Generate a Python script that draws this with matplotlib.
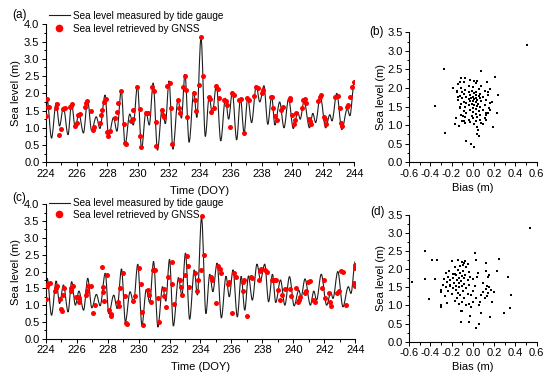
import matplotlib
matplotlib.use("Agg")
import matplotlib.pyplot as plt
from matplotlib.ticker import MultipleLocator
from matplotlib.lines import Line2D
from matplotlib.path import Path
from matplotlib.patches import PathPatch

plt.rcParams['font.family'] = ['Liberation Sans', 'DejaVu Sans']
plt.rcParams['axes.unicode_minus'] = False

# tide gauge record, read as high / low water turning points (DOY, m)
tide_doy = [224.00, 224.10, 224.38, 224.68, 224.90, 225.15, 225.45, 225.68, 225.92, 226.15,
            226.45, 226.72, 226.98, 227.28, 227.52, 227.85, 228.08, 228.40, 228.62, 228.90,
            229.15, 229.45, 229.68, 229.95, 230.22, 230.50, 230.72, 230.97, 231.25, 231.55,
            231.76, 232.00, 232.25, 232.58, 232.80, 233.03, 233.30, 233.60, 233.80, 234.07,
            234.35, 234.60, 234.80, 235.07, 235.35, 235.65, 235.86, 236.10, 236.38, 236.63,
            236.86, 237.10, 237.35, 237.65, 237.88, 238.15, 238.40, 238.65, 238.86, 239.17,
            239.45, 239.75, 240.05, 240.35, 240.50, 240.75, 241.10, 241.32, 241.50, 241.80,
            242.15, 242.42, 242.56, 242.87, 243.20, 243.55, 243.72, 244.00]
tide_level = [1.45, 1.80, 0.70, 1.72, 1.05, 1.60, 0.80, 1.70, 1.00, 1.42,
              0.85, 1.80, 0.92, 1.32, 0.98, 1.95, 0.75, 1.30, 0.90, 2.08,
              0.50, 1.40, 1.08, 2.22, 0.40, 1.47, 1.08, 2.30, 0.35, 1.55,
              1.12, 2.36, 0.38, 1.82, 1.28, 2.55, 0.58, 2.05, 1.30, 3.62,
              0.75, 1.92, 1.40, 2.25, 0.62, 1.86, 1.25, 2.05, 0.65, 1.86,
              0.85, 1.87, 1.15, 2.22, 1.75, 2.22, 1.10, 1.92, 1.08, 1.75,
              1.00, 1.85, 0.98, 1.45, 1.25, 1.78, 1.00, 1.42, 1.15, 1.92,
              1.00, 1.38, 1.20, 2.00, 0.95, 1.55, 1.35, 2.30]

# GNSS retrievals, panel (a)
a_doy = [224.00, 224.06, 224.17, 224.24, 224.65, 224.73, 224.88, 224.99, 225.14, 225.23,
         225.57, 225.66, 225.72, 225.92, 226.03, 226.11, 226.22, 226.54, 226.61, 226.69,
         226.91, 227.04, 227.15, 227.51, 227.58, 227.66, 227.77, 227.90, 227.99, 228.05,
         228.16, 228.48, 228.63, 228.70, 228.89, 229.06, 229.13, 229.19, 229.50, 229.63,
         229.69, 229.91, 230.10, 230.14, 230.21, 230.53, 230.64, 230.92, 231.03, 231.13,
         231.18, 231.54, 231.61, 231.67, 231.89, 232.04, 232.12, 232.19, 232.58, 232.64,
         232.69, 232.90, 233.03, 233.12, 233.18, 233.61, 233.66, 233.72, 233.91, 234.08,
         234.19, 234.58, 234.67, 234.73, 234.91, 235.06, 235.16, 235.23, 235.59, 235.66,
         235.75, 235.92, 236.07, 236.18, 236.56, 236.67, 236.88, 237.06, 237.17, 237.53,
         237.64, 237.75, 238.01, 238.12, 238.61, 238.68, 238.76, 238.87, 238.99, 239.28,
         239.38, 239.81, 239.86, 239.99, 240.07, 240.14, 240.20, 240.61, 240.68, 240.79,
         240.89, 241.07, 241.15, 241.22, 241.65, 241.76, 241.86, 242.02, 242.10, 242.19,
         242.73, 242.94, 243.05, 243.16, 243.22, 243.53, 243.61, 243.70, 243.87, 243.96]
a_level = [1.34, 1.83, 1.61, 1.59, 1.57, 1.70, 0.79, 0.97, 1.55, 1.57,
           1.59, 1.64, 1.69, 1.06, 1.13, 1.37, 1.40, 1.61, 1.71, 1.78,
           1.50, 0.94, 1.03, 1.15, 1.37, 1.52, 1.74, 1.84, 0.89, 0.76,
           0.91, 1.28, 1.47, 1.73, 2.07, 1.11, 0.57, 0.53, 1.21, 1.25,
           1.52, 2.17, 1.55, 0.76, 0.43, 1.44, 1.44, 2.19, 2.07, 1.18,
           0.48, 1.52, 1.37, 1.30, 2.21, 2.31, 1.57, 0.53, 1.81, 1.58,
           1.44, 2.17, 2.51, 2.10, 1.32, 2.02, 1.81, 1.50, 2.24, 3.64,
           2.50, 1.90, 1.83, 1.47, 1.57, 2.22, 2.12, 1.87, 1.81, 1.79,
           1.65, 1.03, 2.02, 1.95, 1.81, 1.83, 0.86, 1.85, 1.81, 1.92,
           2.17, 2.16, 2.02, 2.10, 1.88, 1.90, 1.57, 1.34, 1.23, 1.52,
           1.59, 1.87, 1.81, 1.37, 1.11, 1.23, 1.42, 1.57, 1.81, 1.83,
           1.71, 1.25, 1.21, 1.11, 1.79, 1.90, 1.95, 1.32, 1.25, 1.11,
           1.90, 1.93, 1.57, 1.13, 1.05, 1.59, 1.66, 1.90, 2.19, 2.34]

# GNSS retrievals, panel (c)
c_doy = [224.00, 224.06, 224.17, 224.28, 224.60, 224.67, 224.75, 224.93, 224.97, 225.03,
         225.14, 225.21, 225.62, 225.66, 225.75, 225.96, 226.07, 226.13, 226.18, 226.61,
         226.67, 226.72, 226.93, 227.08, 227.17, 227.62, 227.69, 227.73, 227.77, 227.94,
         228.12, 228.20, 228.25, 228.70, 228.74, 228.78, 228.98, 229.13, 229.19, 229.26,
         229.67, 229.78, 230.01, 230.17, 230.21, 230.27, 230.62, 230.68, 230.79, 230.96,
         231.09, 231.24, 231.29, 231.62, 231.66, 231.77, 231.93, 232.15, 232.19, 232.29,
         232.68, 232.72, 232.79, 233.01, 233.16, 233.22, 233.28, 233.67, 233.78, 233.87,
         234.04, 234.13, 234.20, 234.71, 234.77, 235.00, 235.16, 235.27, 235.34, 235.77,
         235.85, 236.02, 236.19, 236.29, 236.73, 236.77, 236.84, 237.01, 237.28, 237.36,
         237.79, 237.86, 237.90, 238.18, 238.29, 238.63, 238.76, 238.87, 238.99, 239.12,
         239.28, 239.43, 239.81, 239.86, 240.14, 240.29, 240.35, 240.46, 240.72, 240.81,
         240.94, 241.07, 241.28, 241.37, 241.86, 241.97, 242.04, 242.30, 242.36, 242.45,
         242.83, 242.92, 243.09, 243.22, 243.37, 243.91, 243.96, 243.99, 244.00]
c_level = [1.18, 1.57, 1.62, 1.65, 1.41, 1.50, 1.57, 1.18, 0.89, 0.83,
           1.31, 1.50, 1.41, 1.50, 1.58, 1.24, 1.23, 1.08, 1.21, 1.29,
           1.43, 1.57, 1.57, 0.76, 1.01, 2.12, 1.53, 1.38, 1.11, 1.90,
           0.86, 0.68, 0.73, 1.08, 0.98, 1.50, 1.95, 1.26, 0.47, 0.44,
           1.11, 1.28, 2.10, 1.63, 0.81, 0.42, 1.46, 1.31, 1.08, 2.05,
           2.05, 1.21, 0.51, 1.48, 1.28, 0.94, 1.85, 2.27, 1.62, 1.03,
           1.75, 1.53, 1.31, 1.90, 2.45, 2.17, 1.55, 1.95, 1.43, 1.75,
           2.05, 3.66, 2.50, 1.83, 1.75, 1.06, 2.17, 2.07, 1.97, 1.63,
           1.70, 0.76, 1.95, 1.83, 1.41, 1.70, 1.75, 0.68, 1.83, 1.80,
           1.75, 2.03, 2.08, 2.05, 2.00, 1.75, 1.75, 1.75, 1.46, 1.14,
           1.31, 1.48, 1.48, 1.28, 1.50, 1.08, 1.14, 1.24, 1.36, 1.41,
           1.70, 1.73, 1.14, 1.08, 1.50, 1.75, 1.21, 1.36, 1.08, 0.99,
           1.36, 1.41, 2.03, 2.00, 1.01, 1.65, 1.57, 2.10, 2.20]

# bias vs sea level, panel (b)
b_bias = [0.51, -0.27, -0.36, -0.26, 0.08, 0.21, 0.24, 0.23, 0.19, -0.19,
          -0.17, -0.16, -0.13, -0.06, -0.02, 0.01, 0.04, 0.06, 0.05, 0.13,
          0.16, 0.18, 0.14, 0.12, 0.10, -0.12, -0.14, -0.12, -0.09, -0.08,
          -0.15, 0.14, 0.16, 0.12,
          -0.11, -0.07, -0.03, 0.01, 0.04, -0.14, -0.08, 0.03, 0.08, -0.04,
          -0.11, 0.00, 0.06, -0.07, -0.01, 0.03, -0.10, 0.11, -0.15, -0.04,
          0.01, 0.07, -0.08, 0.03, -0.03, 0.14, -0.12, 0.06, 0.00, -0.06,
          0.10, -0.02, 0.03, -0.10, 0.07, 0.01, -0.04, 0.12, -0.14, 0.04,
          -0.03, 0.00, 0.08, -0.08, 0.03, -0.06, 0.16, 0.05, -0.01, -0.11,
          0.01, 0.11, -0.04, 0.04, -0.07, 0.07, 0.00, -0.12, 0.15, 0.03,
          -0.03, 0.10, -0.08, 0.06, 0.00, -0.06, 0.12, 0.03, -0.11, 0.07,
          -0.01, 0.04, -0.07, 0.11, 0.00, -0.04, 0.07, -0.10, 0.03, -0.03,
          0.08, -0.07, 0.01, 0.04]
b_level = [3.17, 2.52, 1.52, 0.80, 2.46, 2.30, 1.80, 1.33, 0.96, 2.01,
           1.02, 1.20, 0.98, 0.58, 0.50, 0.42, 0.76, 0.70, 0.88, 2.17,
           1.98, 1.62, 1.32, 1.15, 1.02, 2.15, 1.75, 1.48, 1.25, 1.12,
           1.92, 1.88, 1.42, 1.28,
           2.27, 2.26, 2.22, 2.20, 2.20, 2.12, 2.15, 2.14, 2.05, 2.05,
           2.00, 2.02, 1.98, 1.95, 1.93, 1.90, 1.90, 1.92, 1.88, 1.88,
           1.86, 1.85, 1.83, 1.82, 1.80, 1.80, 1.78, 1.78, 1.77, 1.76,
           1.75, 1.74, 1.73, 1.72, 1.72, 1.70, 1.70, 1.69, 1.68, 1.68,
           1.66, 1.65, 1.64, 1.63, 1.62, 1.60, 1.60, 1.58, 1.58, 1.57,
           1.55, 1.54, 1.53, 1.52, 1.50, 1.48, 1.47, 1.45, 1.45, 1.43,
           1.42, 1.40, 1.38, 1.37, 1.35, 1.33, 1.32, 1.30, 1.28, 1.27,
           1.25, 1.23, 1.22, 1.20, 1.18, 1.15, 1.14, 1.12, 1.10, 1.08,
           1.07, 1.05, 1.04, 0.95]

# bias vs sea level, panel (d)
d_bias = [0.54, -0.45, -0.57, -0.45, -0.38, -0.34, -0.36, -0.41, -0.30, 0.02,
          0.03, 0.12, 0.25, 0.23, 0.33, 0.35, 0.36, 0.29, 0.16, 0.08,
          0.06, 0.03, -0.04, -0.11, -0.10, -0.03,
          0.10, 0.13, 0.15, 0.12, 0.17, 0.10, 0.14, 0.20, 0.08, 0.13,
          0.11, 0.18, 0.07, 0.14, 0.15, 0.05, 0.04, 0.00, 0.02, 0.00,
          -0.02, 0.03, 0.00, -0.04, 0.06, -0.02, 0.12,
          -0.20, -0.14, -0.10, -0.07, -0.05, -0.09, -0.17, -0.12, -0.06, -0.22,
          -0.14, -0.09, -0.04, -0.25, -0.19, -0.12, -0.07, -0.16, -0.10, -0.03,
          -0.23, -0.19, -0.13, -0.08, -0.27, -0.21, -0.15, -0.11, -0.05, -0.24,
          -0.18, -0.13, -0.08, -0.28, -0.21, -0.16, -0.10, -0.04, -0.25, -0.19,
          -0.13, -0.06, -0.30, -0.23, -0.16, -0.09, -0.30, -0.20, -0.12, -0.05,
          -0.26, -0.15, -0.08, -0.17, -0.10, -0.24, -0.13, -0.06, -0.30, -0.11,
          -0.21, -0.17, -0.08, -0.14]
d_level = [3.15, 2.51, 1.64, 1.72, 2.26, 2.27, 1.73, 1.18, 1.01, 2.46,
           2.26, 2.18, 2.28, 1.95, 1.78, 0.94, 1.29, 0.78, 0.69, 0.80,
           0.49, 0.39, 0.55, 0.55, 0.86, 0.72,
           1.62, 1.55, 1.50, 1.45, 1.42, 1.38, 1.35, 1.38, 1.30, 1.25,
           1.20, 1.10, 1.10, 1.78, 1.85, 1.90, 1.78, 1.72, 1.55, 1.40,
           1.30, 1.20, 1.10, 1.05, 1.00, 0.95, 1.95,
           2.22, 2.25, 2.20, 2.22, 2.15, 2.12, 2.05, 2.08, 2.05, 1.95,
           1.98, 1.95, 1.92, 1.90, 1.88, 1.90, 1.85, 1.83, 1.82, 1.80,
           1.80, 1.77, 1.76, 1.75, 1.72, 1.70, 1.71, 1.68, 1.70, 1.65,
           1.63, 1.62, 1.60, 1.58, 1.57, 1.55, 1.55, 1.58, 1.50, 1.48,
           1.50, 1.48, 1.42, 1.40, 1.42, 1.40, 1.36, 1.33, 1.30, 1.32,
           1.25, 1.22, 1.20, 1.12, 1.10, 1.08, 1.03, 1.00, 0.97, 0.85,
           1.55, 1.88, 2.18, 1.35]

FS = 8
LEG_FS = 7.2


def style_axes(ax):
    ax.spines['top'].set_visible(False)
    ax.spines['right'].set_visible(False)
    for s in ('left', 'bottom'):
        ax.spines[s].set_linewidth(0.8)
    ax.tick_params(which='both', direction='out', width=0.7, labelsize=FS, pad=1.5)
    ax.tick_params(which='major', length=3)
    ax.tick_params(which='minor', length=1.8)


def tide_path(t, h):
    # smooth connection between turning points (flat tangent at each one)
    verts = [(t[0], h[0])]
    codes = [Path.MOVETO]
    for i in range(1, len(t)):
        dt = t[i] - t[i - 1]
        verts += [(t[i - 1] + dt / 3, h[i - 1]), (t[i] - dt / 3, h[i]), (t[i], h[i])]
        codes += [Path.CURVE4] * 3
    return Path(verts, codes)


def time_panel(rect, gnss_doy, gnss_level, leg_y, leg_space):
    ax = fig.add_axes(rect)
    ax.add_patch(PathPatch(tide_path(tide_doy, tide_level), fill=False,
                           edgecolor='#1e1e1e', lw=0.8, zorder=2))
    ax.plot(gnss_doy, gnss_level, 'o', color='#ff0000', ms=3.6, mew=0, zorder=3)
    ax.set_xlim(224, 244)
    ax.set_ylim(0, 4.0)
    ax.xaxis.set_major_locator(MultipleLocator(2))
    ax.xaxis.set_minor_locator(MultipleLocator(1))
    ax.yaxis.set_major_locator(MultipleLocator(0.5))
    ax.yaxis.set_minor_locator(MultipleLocator(0.25))
    ax.yaxis.set_major_formatter(lambda v, p: f"{v:.1f}")
    style_axes(ax)
    ax.set_xlabel('Time (DOY)', fontsize=FS)
    ax.set_ylabel('Sea level (m)', fontsize=FS)
    ax.xaxis.set_label_coords(0.5, -0.17)
    ax.yaxis.set_label_coords(-0.08, 0.5)
    handles = [Line2D([], [], color='#1e1e1e', lw=0.8),
               Line2D([], [], ls='none', marker='o', color='#ff0000', ms=5.5, mew=0)]
    ax.legend(handles, ['Sea level measured by tide gauge', 'Sea level retrieved by GNSS'],
              loc='upper left', bbox_to_anchor=(0.0, leg_y), frameon=False,
              fontsize=LEG_FS, handlelength=2.1, handletextpad=0.35,
              labelspacing=leg_space, borderaxespad=0.2, borderpad=0.1)
    return ax


def bias_panel(rect, bias, level):
    ax = fig.add_axes(rect)
    ax.plot(bias, level, 's', color='black', ms=1.7, mew=0)
    ax.set_xlim(-0.6, 0.6)
    ax.set_ylim(0, 3.5)
    ax.xaxis.set_major_locator(MultipleLocator(0.2))
    ax.xaxis.set_minor_locator(MultipleLocator(0.1))
    ax.yaxis.set_major_locator(MultipleLocator(0.5))
    ax.yaxis.set_minor_locator(MultipleLocator(0.25))
    ax.xaxis.set_major_formatter(lambda v, p: f"{v:.1f}")
    ax.yaxis.set_major_formatter(lambda v, p: f"{v:.1f}")
    style_axes(ax)
    ax.set_xlabel('Bias (m)', fontsize=FS)
    ax.set_ylabel('Sea level (m)', fontsize=FS)
    ax.xaxis.set_label_coords(0.5, -0.16)
    ax.yaxis.set_label_coords(-0.18, 0.5)
    return ax


fig = plt.figure(figsize=(5.5, 3.74), dpi=100)

time_panel([0.083, 0.566, 0.561, 0.369], a_doy, a_level, 1.12, 0.3)
bias_panel([0.7436, 0.566, 0.2322, 0.3476], b_bias, b_level)
time_panel([0.083, 0.094, 0.563, 0.360], c_doy, c_level, 1.065, 0.12)
bias_panel([0.7436, 0.0864, 0.2322, 0.3387], d_bias, d_level)

fig.text(0.022, 0.96, '(a)', fontsize=FS + 0.5, va='center')
fig.text(0.672, 0.915, '(b)', fontsize=FS + 0.5, va='center')
fig.text(0.022, 0.47, '(c)', fontsize=FS + 0.5, va='center')
fig.text(0.674, 0.434, '(d)', fontsize=FS + 0.5, va='center')

fig.savefig('out.png', dpi=100)
